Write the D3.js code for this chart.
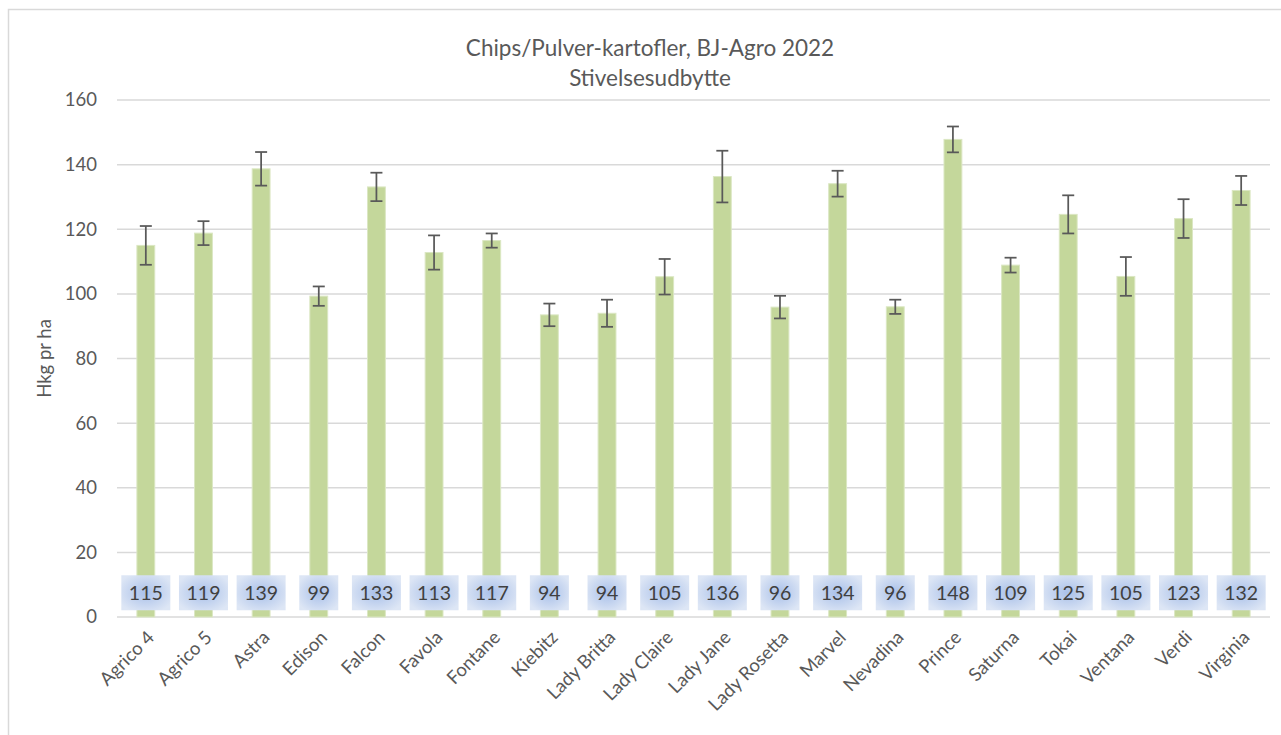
<!DOCTYPE html>
<html>
<head>
<meta charset="utf-8">
<script src="https://cdn.jsdelivr.net/npm/d3@7"></script>
<style>
  body { margin: 0; background: #fff; }
  svg { display: block; font-family: Lato, "Open Sans", sans-serif; }
</style>
</head>
<body>
<svg id="chart" width="1281" height="735"></svg>
<script>
// sorter og værdier (Hkg stivelse pr ha)
const varieties = ["Agrico 4", "Agrico 5", "Astra", "Edison", "Falcon", "Favola", "Fontane",
  "Kiebitz", "Lady Britta", "Lady Claire", "Lady Jane", "Lady Rosetta", "Marvel", "Nevadina",
  "Prince", "Saturna", "Tokai", "Ventana", "Verdi", "Virginia"];
const yields = [115, 118.8, 138.7, 99.3, 133.1, 112.8, 116.5, 93.5, 94.0, 105.3,
  136.3, 95.9, 134.1, 96.0, 147.8, 108.9, 124.6, 105.4, 123.3, 132.0];
const errors = [6.0, 3.7, 5.2, 3.0, 4.4, 5.3, 2.2, 3.5, 4.2, 5.5,
  8.0, 3.5, 4.0, 2.2, 4.0, 2.3, 5.9, 6.0, 6.0, 4.5];
const labels = [115, 119, 139, 99, 133, 113, 117, 94, 94, 105,
  136, 96, 134, 96, 148, 109, 125, 105, 123, 132];
const yTicks = [0, 20, 40, 60, 80, 100, 120, 140, 160];

const data = varieties.map((name, i) => ({name, value: yields[i], err: errors[i], label: labels[i]}));

const width = 1281, height = 735;
const margin = {top: 100, right: 11, bottom: 118, left: 117};

const svg = d3.select("#chart");

// ramme
svg.append("path")
  .attr("d", `M8.5,${height}V9.5H${width}`)
  .attr("fill", "none")
  .attr("stroke", "#d9d9d9")
  .attr("stroke-width", 1.5);

const x = d3.scaleBand()
  .domain(varieties)
  .range([margin.left, width - margin.right])
  .paddingInner(0.69)
  .paddingOuter(0.345);

const y = d3.scaleLinear()
  .domain([0, 160])
  .range([height - margin.bottom, margin.top]);

// gitterlinjer
svg.append("g")
  .selectAll("line")
  .data(yTicks)
  .join("line")
    .attr("x1", margin.left)
    .attr("x2", width - margin.right)
    .attr("y1", d => y(d))
    .attr("y2", d => y(d))
    .attr("stroke", "#d9d9d9")
    .attr("stroke-width", 1.5);

// y-akse
const yAxis = g => g
  .attr("transform", `translate(${margin.left},0)`)
  .call(d3.axisLeft(y).tickValues(yTicks).tickSize(0).tickPadding(20))
  .call(g => g.select(".domain").remove())
  .call(g => g.selectAll("text")
    .attr("fill", "#595959")
    .attr("font-size", 18.5)
    .attr("font-family", "Lato, sans-serif"));
svg.append("g").call(yAxis);

svg.append("text")
  .attr("transform", `translate(51,${(y(0) + y(160)) / 2}) rotate(-90)`)
  .attr("text-anchor", "middle")
  .attr("fill", "#595959")
  .attr("font-size", 18.5)
  .text("Hkg pr ha");

// søjler
svg.append("g")
  .selectAll("rect")
  .data(data)
  .join("rect")
    .attr("x", d => x(d.name))
    .attr("y", d => y(d.value))
    .attr("width", x.bandwidth())
    .attr("height", d => y(0) - y(d.value))
    .attr("fill", "#c4d79b")
    .attr("stroke", "#dbe7c3")
    .attr("stroke-width", 1);

// fejllinjer
const cap = 6;
const eb = svg.append("g")
  .attr("stroke", "#595959")
  .attr("stroke-width", 1.75)
  .selectAll("g")
  .data(data)
  .join("g")
    .attr("transform", d => `translate(${x(d.name) + x.bandwidth() / 2},0)`);
eb.append("line")
  .attr("y1", d => y(d.value + d.err))
  .attr("y2", d => y(d.value - d.err));
eb.append("line")
  .attr("x1", -cap).attr("x2", cap)
  .attr("y1", d => y(d.value + d.err))
  .attr("y2", d => y(d.value + d.err));
eb.append("line")
  .attr("x1", -cap).attr("x2", cap)
  .attr("y1", d => y(d.value - d.err))
  .attr("y2", d => y(d.value - d.err));

// dataetiketter
const defs = svg.append("defs");
const grad = defs.append("radialGradient")
  .attr("id", "lblGrad")
  .attr("cx", "50%").attr("cy", "50%").attr("r", "60%");
grad.append("stop").attr("offset", "0%").attr("stop-color", "#a9c0e9");
grad.append("stop").attr("offset", "100%").attr("stop-color", "#dde6f5");

const lbl = svg.append("g")
  .selectAll("g")
  .data(data)
  .join("g")
    .attr("transform", d => `translate(${x(d.name) + x.bandwidth() / 2},${y(7.5)})`);
lbl.append("rect")
  .attr("x", d => String(d.label).length > 2 ? -24.5 : -19.5)
  .attr("width", d => String(d.label).length > 2 ? 49 : 39)
  .attr("y", -17.5)
  .attr("height", 35)
  .attr("fill", "url(#lblGrad)");
lbl.append("text")
  .attr("text-anchor", "middle")
  .attr("dy", "0.36em")
  .attr("fill", "#404040")
  .attr("font-size", 19.5)
  .text(d => d.label);

// x-akse etiketter
svg.append("g")
  .selectAll("text")
  .data(varieties)
  .join("text")
    .attr("transform", d => `translate(${x(d) + x.bandwidth() / 2 + 5},${y(0) + 17}) rotate(-45)`)
    .attr("text-anchor", "end")
    .attr("dy", "0.35em")
    .attr("fill", "#595959")
    .attr("font-size", 18.5)
    .text(d => d);

// titel
svg.append("text")
  .attr("x", 650).attr("y", 56)
  .attr("text-anchor", "middle")
  .attr("fill", "#595959")
  .attr("font-size", 22.5)
  .text("Chips/Pulver-kartofler, BJ-Agro 2022");
svg.append("text")
  .attr("x", 650).attr("y", 86)
  .attr("text-anchor", "middle")
  .attr("fill", "#595959")
  .attr("font-size", 22.5)
  .text("Stivelsesudbytte");
</script>
</body>
</html>
